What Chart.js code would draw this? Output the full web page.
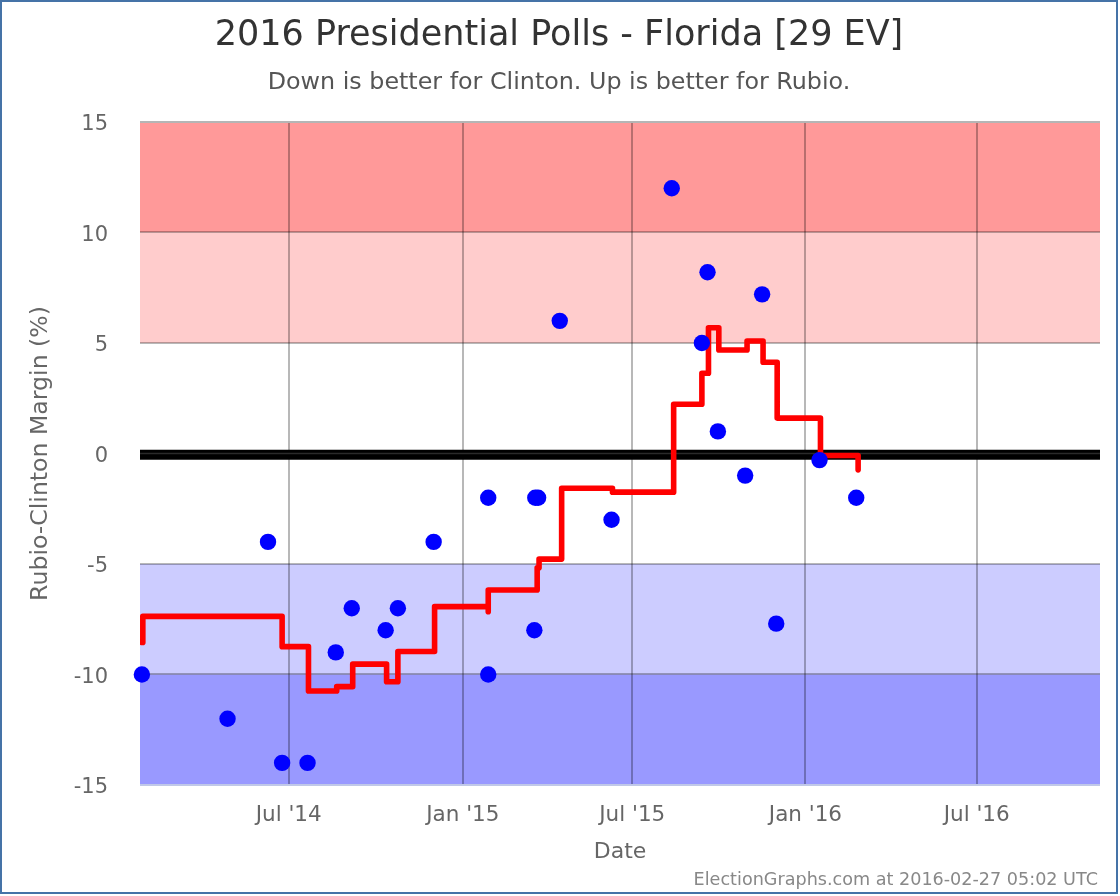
<!DOCTYPE html>
<html>
<head>
<meta charset="utf-8">
<script src="https://cdn.jsdelivr.net/npm/chart.js@4"></script>
<style>
html,body{margin:0;padding:0;background:#fff;}
#wrap{position:relative;width:1118px;height:894px;}
canvas{position:absolute;left:0;top:0;}
#frame{position:absolute;left:0;top:0;width:1118px;height:894px;box-sizing:border-box;border:2px solid #4573a7;pointer-events:none;}
</style>
</head>
<body>
<div id="wrap"><canvas id="c" width="1118" height="894"></canvas><div id="frame"></div></div>
<script>
const titleText = "2016 Presidential Polls - Florida [29 EV]";
const subtitleText = "Down is better for Clinton. Up is better for Rubio.";
const yTitle = "Rubio-Clinton Margin (%)";
const xTitle = "Date";
const creditText = "ElectionGraphs.com at 2016-02-27 05:02 UTC";

const axisStart = "2014-01-24";
const axisEnd = "2016-11-09";
const tickDates = ["2014-07-01","2015-01-02","2015-07-01","2016-01-01","2016-07-01"];
const tickLabels = ["Jul '14","Jan '15","Jul '15","Jan '16","Jul '16"];

const pollDates = ["2014-01-26","2014-04-27","2014-06-09","2014-06-24","2014-07-21","2014-08-20","2014-09-06","2014-10-12","2014-10-25","2014-12-02","2015-01-29","2015-01-29","2015-03-19","2015-03-20","2015-03-23","2015-04-15","2015-06-09","2015-08-12","2015-09-13","2015-09-19","2015-09-30","2015-10-29","2015-11-16","2015-12-01","2016-01-16","2016-02-24"];
const pollMargins = [-10,-12,-4,-14,-14,-9,-7,-8,-7,-4,-2,-10,-8,-2,-2,6,-3,12,5,8.2,1,-1,7.2,-7.7,-0.3,-2];

const avgDates = ["2014-01-26","2014-01-27","2014-06-24","2014-07-22","2014-08-21","2014-09-07","2014-10-13","2014-10-25","2014-12-03","2015-01-29","2015-01-29","2015-03-22","2015-03-24","2015-04-17","2015-06-10","2015-08-14","2015-09-13","2015-09-20","2015-10-01","2015-10-31","2015-11-17","2015-12-02","2016-01-17","2016-02-26"];
const avgMargins = [-8.55,-7.37,-8.74,-10.75,-10.55,-9.53,-10.33,-8.96,-6.93,-7.16,-6.18,-5.17,-4.78,-1.57,-1.75,2.23,3.63,5.69,4.68,5.09,4.13,1.6,-0.09,-0.74];

const bandEdges = [[10,15],[5,10],[-10,-5],[-15,-10]];
const bandColors = ["#ff9999","#ffcccc","#ccccff","#9999ff"];

const toDay = s => Date.parse(s + "T00:00:00Z") / 86400000;
const xMin = toDay(axisStart), xMax = toDay(axisEnd);
const tickDays = tickDates.map(toDay);
const zip = (ds, vs) => ds.map((d, i) => ({x: toDay(d), y: vs[i]}));
const FONT = "'DejaVu Sans'";

const bands = {
  id: "bands",
  beforeDraw(chart) {
    const {ctx, chartArea: a, scales: {y}} = chart;
    ctx.save();
    bandEdges.forEach((b, i) => {
      const t = y.getPixelForValue(b[1]), u = y.getPixelForValue(b[0]);
      const inset = b[1] === 15 ? 1 : 0;
      ctx.fillStyle = bandColors[i];
      ctx.fillRect(a.left, t + inset, a.right - a.left, u - t - inset);
    });
    ctx.restore();
    y.getLabelItems().forEach(item => {
      if (!item.shifted) { item.options.translation[1] += 3; item.shifted = true; }
    });
  }
};
const credit = {
  id: "credit",
  afterDraw(chart) {
    const {ctx} = chart;
    ctx.save();
    ctx.font = "17.6px " + FONT;
    ctx.fillStyle = "#888888";
    ctx.textAlign = "right";
    ctx.textBaseline = "middle";
    ctx.fillText(creditText, 1098, 880);
    ctx.restore();
  }
};

new Chart(document.getElementById("c"), {
  type: "scatter",
  data: {
    datasets: [
      {label: "Polls", data: zip(pollDates, pollMargins), showLine: false, pointRadius: 8.2, pointHoverRadius: 8.2, backgroundColor: "#0000ff", borderColor: "#0000ff", borderWidth: 0, clip: false, order: 1},
      {label: "Average", data: zip(avgDates, avgMargins), showLine: true, stepped: true, pointRadius: 0, borderColor: "#ff0000", borderWidth: 5.6, borderCapStyle: "round", borderJoinStyle: "round", order: 2},
      {label: "Center", data: [{x: xMin, y: 0}, {x: xMax, y: 0}], showLine: true, pointRadius: 0, borderColor: "#2a2a2a", borderWidth: 1.5, order: 3},
      {label: "Zero", data: [{x: xMin, y: -0.06}, {x: xMax, y: -0.06}], showLine: true, pointRadius: 0, borderColor: "#000000", borderWidth: 10, order: 4}
    ]
  },
  options: {
    responsive: false,
    animation: false,
    devicePixelRatio: 1,
    layout: {padding: {left: 18, right: 18, top: 0, bottom: 0}},
    plugins: {
      legend: {display: false},
      tooltip: {enabled: false},
      title: {display: true, text: titleText, color: "#333333", font: {family: FONT, size: 35, weight: "normal", lineHeight: 1.2}, padding: {top: 15, bottom: 10.5}},
      subtitle: {display: true, text: subtitleText, color: "#555555", font: {family: FONT, size: 23.8, weight: "normal", lineHeight: 1.2}, padding: {top: 1, bottom: 24.9}}
    },
    scales: {
      x: {
        type: "linear", min: xMin, max: xMax,
        afterFit(s) { s.height = 109; },
        afterBuildTicks(s) { s.ticks = tickDays.map(v => ({value: v})); },
        grid: {color: "rgba(0,0,0,0.28)", lineWidth: 2, drawTicks: false},
        border: {display: false},
        ticks: {color: "#666666", font: {family: FONT, size: 21.5}, padding: 18, autoSkip: false, maxRotation: 0,
          callback: v => tickLabels[tickDays.indexOf(v)]},
        title: {display: true, text: xTitle, color: "#666666", font: {family: FONT, size: 22}, padding: {top: 0, bottom: 29}}
      },
      y: {
        type: "linear", min: -15, max: 15,
        afterFit(s) { s.width = 122; },
        grid: {color: c => c.tick && c.tick.value === 15 ? "#b5b5b5" : (c.tick && c.tick.value === -15 ? "#c0c8e8" : "rgba(0,0,0,0.28)"), lineWidth: 2, drawTicks: false},
        border: {display: false},
        ticks: {color: "#666666", font: {family: FONT, size: 21}, padding: 32, stepSize: 5},
        title: {display: true, text: yTitle, color: "#666666", font: {family: FONT, size: 23.6}, padding: {top: 9, bottom: 0}}
      }
    }
  },
  plugins: [bands, credit]
});
</script>
</body>
</html>
